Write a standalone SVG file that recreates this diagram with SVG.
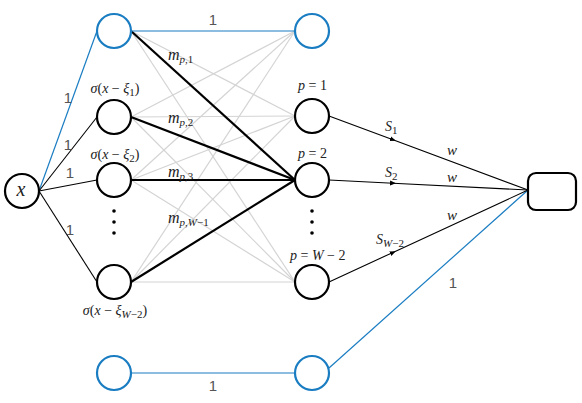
<svg xmlns="http://www.w3.org/2000/svg" width="582" height="403" viewBox="0 0 582 403">
<defs>
<style>
.nb{fill:#fff;stroke:#000;stroke-width:2.2}
.nl{fill:#fff;stroke:#1a7dc2;stroke-width:2.2}
.g{stroke:#d4d4d4;stroke-width:1.2;fill:none}
.k{stroke:#000;stroke-width:2.2;fill:none}
.t{stroke:#000;stroke-width:1.1;fill:none}
.b{stroke:#1a7dc2;stroke-width:1.2;fill:none}
.one{font-family:'Liberation Sans',Arial,sans-serif;font-size:15px;fill:#555}
.m{font-family:'Liberation Serif',serif;fill:#222}
.i{font-style:italic}
.s{font-size:11px}
.dot{fill:#000}
</style>
<marker id="ar" viewBox="0 0 6 6" refX="3" refY="3" markerWidth="6" markerHeight="6" markerUnits="userSpaceOnUse" orient="auto">
<path d="M0,0.5 L6,3 L0,5.5 Z" fill="#000"/>
</marker>
</defs>
<g id="connectors">
<line class="b" x1="39" y1="191" x2="97" y2="31"/>
<line class="t" x1="39" y1="191" x2="97" y2="117"/>
<line class="t" x1="39" y1="191" x2="97" y2="180"/>
<line class="t" x1="39" y1="191" x2="97" y2="282"/>
<line class="g" x1="131" y1="31" x2="295" y2="116"/>
<line class="g" x1="131" y1="31" x2="295" y2="282"/>
<line class="g" x1="131" y1="117" x2="295" y2="31"/>
<line class="g" x1="131" y1="117" x2="295" y2="116"/>
<line class="g" x1="131" y1="117" x2="295" y2="282"/>
<line class="g" x1="131" y1="180" x2="295" y2="31"/>
<line class="g" x1="131" y1="180" x2="295" y2="116"/>
<line class="g" x1="131" y1="180" x2="295" y2="282"/>
<line class="g" x1="131" y1="282" x2="295" y2="31"/>
<line class="g" x1="131" y1="282" x2="295" y2="116"/>
<line class="g" x1="131" y1="282" x2="295" y2="282"/>
<line class="k" x1="131" y1="31" x2="295" y2="180"/>
<line class="k" x1="131" y1="117" x2="295" y2="180"/>
<line class="k" x1="131" y1="180" x2="295" y2="180"/>
<line class="k" x1="131" y1="282" x2="295" y2="180"/>
<line class="b" x1="131" y1="31" x2="295" y2="31"/>
<line class="b" x1="131" y1="373" x2="295" y2="373"/>
<line class="b" x1="329" y1="368" x2="528" y2="190"/>
<path class="t" d="M329,116 L393,139.8 L528,190" marker-mid="url(#ar)"/>
<path class="t" d="M329,180 L393,183.2 L528,190" marker-mid="url(#ar)"/>
<path class="t" d="M329,282 L393,252.4 L528,190" marker-mid="url(#ar)"/>
</g>
<g id="node-x"><circle class="nb" cx="22" cy="191" r="17"/><text class="m i" x="21" y="196" text-anchor="middle" style="font-size:20px">x</text></g>
<g id="node-bias1"><circle class="nl" cx="114" cy="31" r="17"/></g>
<g id="node-s1"><circle class="nb" cx="114" cy="117" r="17"/></g>
<g id="node-s2"><circle class="nb" cx="114" cy="180" r="17"/></g>
<g id="node-sW"><circle class="nb" cx="114" cy="282" r="17"/></g>
<g id="node-bias1b"><circle class="nl" cx="114" cy="373" r="17"/></g>
<g id="node-bias2"><circle class="nl" cx="312" cy="31" r="17"/></g>
<g id="node-p1"><circle class="nb" cx="312" cy="116" r="17"/></g>
<g id="node-p2"><circle class="nb" cx="312" cy="180" r="17"/></g>
<g id="node-pW"><circle class="nb" cx="312" cy="282" r="17"/></g>
<g id="node-bias2b"><circle class="nl" cx="312" cy="373" r="17"/></g>
<g id="node-out"><rect class="nb" x="528" y="173" width="48" height="37" rx="8"/></g>
<g id="dots">
<circle class="dot" cx="114" cy="211" r="1.8"/><circle class="dot" cx="114" cy="222" r="1.8"/><circle class="dot" cx="114" cy="233" r="1.8"/>
<circle class="dot" cx="312" cy="211" r="1.8"/><circle class="dot" cx="312" cy="222" r="1.8"/><circle class="dot" cx="312" cy="233" r="1.8"/>
</g>
<g id="labels">
<text class="one" x="68" y="103" text-anchor="middle">1</text>
<text class="one" x="68" y="150" text-anchor="middle">1</text>
<text class="one" x="70" y="178" text-anchor="middle">1</text>
<text class="one" x="70" y="235" text-anchor="middle">1</text>
<text class="one" x="213" y="25" text-anchor="middle">1</text>
<text class="one" x="213" y="391" text-anchor="middle">1</text>
<text class="one" x="453" y="288" text-anchor="middle">1</text>
<text class="m" x="115" y="93" text-anchor="middle" style="font-size:14px"><tspan class="i">σ</tspan>(<tspan class="i">x</tspan> − <tspan class="i">ξ</tspan><tspan class="s" dy="3">1</tspan><tspan dy="-3">)</tspan></text>
<text class="m" x="115" y="159" text-anchor="middle" style="font-size:14px"><tspan class="i">σ</tspan>(<tspan class="i">x</tspan> − <tspan class="i">ξ</tspan><tspan class="s" dy="3">2</tspan><tspan dy="-3">)</tspan></text>
<text class="m" x="115" y="315" text-anchor="middle" style="font-size:14px"><tspan class="i">σ</tspan>(<tspan class="i">x</tspan> − <tspan class="i">ξ</tspan><tspan class="s i" dy="3">W</tspan><tspan class="s">−2</tspan><tspan dy="-3">)</tspan></text>
<text class="m" x="168" y="60" style="font-size:16px"><tspan class="i">m</tspan><tspan class="s" dy="3"><tspan class="i">p</tspan>,1</tspan></text>
<text class="m" x="168" y="123" style="font-size:16px"><tspan class="i">m</tspan><tspan class="s" dy="3"><tspan class="i">p</tspan>,2</tspan></text>
<text class="m" x="168" y="177" style="font-size:16px"><tspan class="i">m</tspan><tspan class="s" dy="3"><tspan class="i">p</tspan>,3</tspan></text>
<text class="m" x="168" y="223" style="font-size:16px"><tspan class="i">m</tspan><tspan class="s" dy="3"><tspan class="i">p</tspan>,<tspan class="i">W</tspan>−1</tspan></text>
<text class="m" x="298" y="90" style="font-size:14px"><tspan class="i">p</tspan> = 1</text>
<text class="m" x="298" y="158" style="font-size:14px"><tspan class="i">p</tspan> = 2</text>
<text class="m" x="290" y="260" style="font-size:14px"><tspan class="i">p</tspan> = <tspan class="i">W</tspan> − 2</text>
<text class="m" x="385" y="131" style="font-size:14px"><tspan class="i">S</tspan><tspan class="s" dy="3">1</tspan></text>
<text class="m" x="385" y="177" style="font-size:14px"><tspan class="i">S</tspan><tspan class="s" dy="3">2</tspan></text>
<text class="m" x="376" y="244" style="font-size:14px"><tspan class="i">S</tspan><tspan class="s" dy="3"><tspan class="i">W</tspan>−2</tspan></text>
<text class="m i" x="447" y="155" style="font-size:15px">w</text>
<text class="m i" x="447" y="182" style="font-size:15px">w</text>
<text class="m i" x="447" y="220" style="font-size:15px">w</text>
</g>
</svg>
